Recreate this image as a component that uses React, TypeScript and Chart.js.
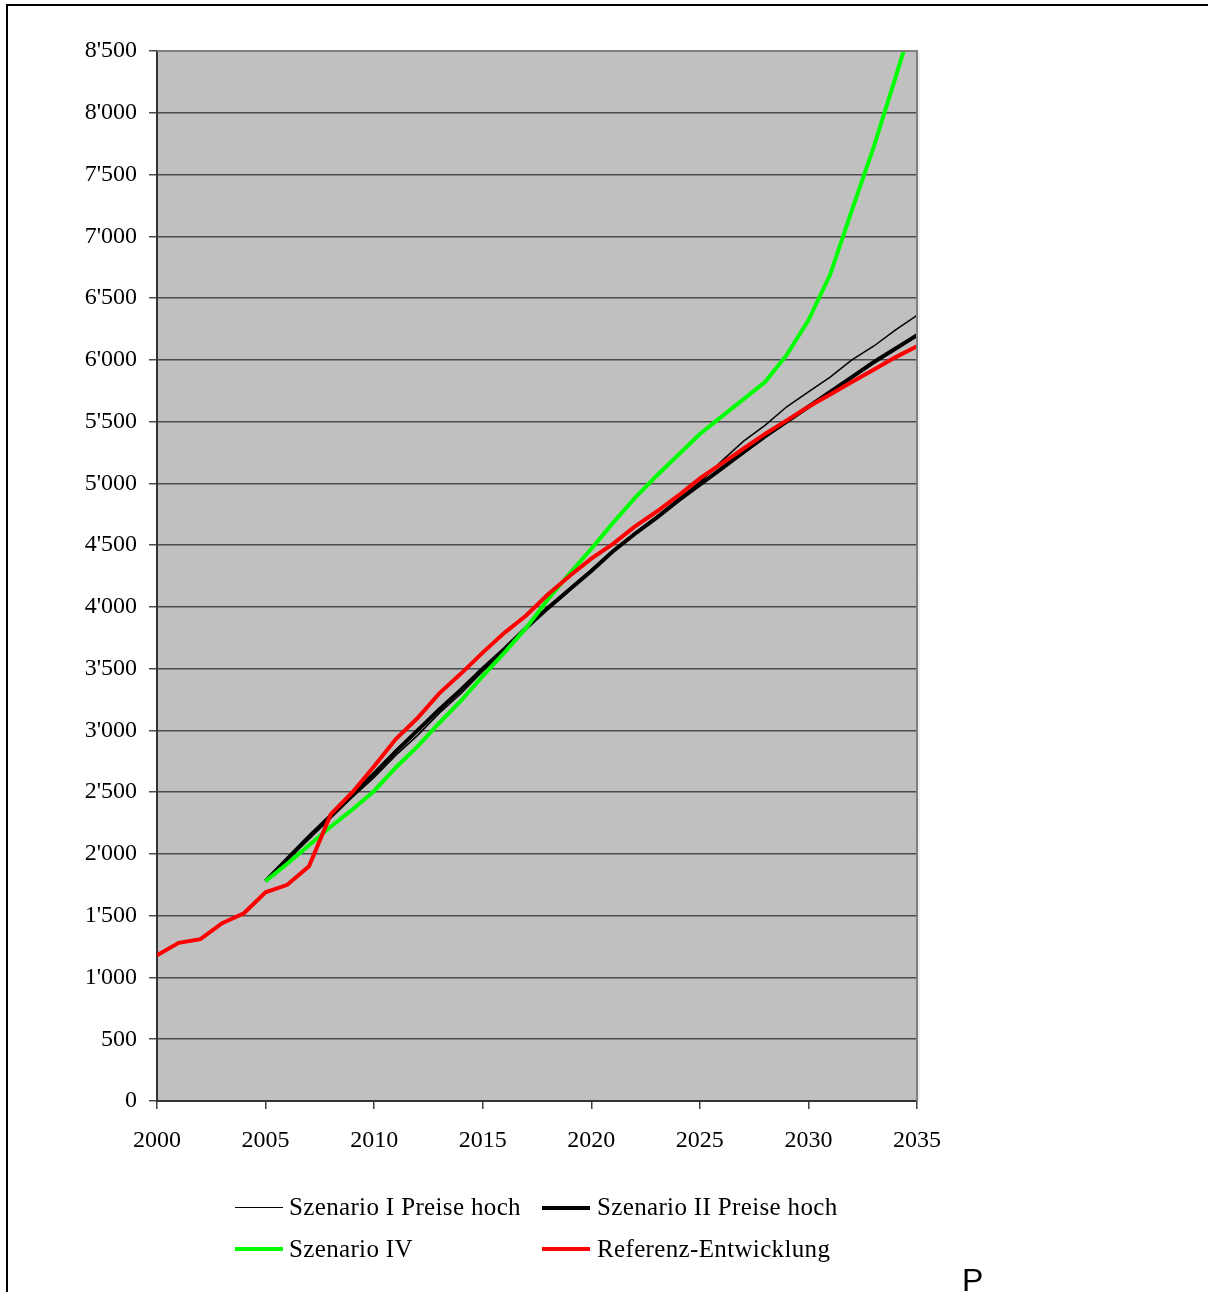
import React, { useEffect, useRef } from "react";
import { Chart, registerables } from "chart.js";

Chart.register(...registerables);

// ---- Data ----
const YEARS_REF = [
  2000, 2001, 2002, 2003, 2004, 2005, 2006, 2007, 2008, 2009, 2010, 2011,
  2012, 2013, 2014, 2015, 2016, 2017, 2018, 2019, 2020, 2021, 2022, 2023,
  2024, 2025, 2026, 2027, 2028, 2029, 2030, 2031, 2032, 2033, 2034, 2035,
];
const YEARS_SZEN = [
  2005, 2006, 2007, 2008, 2009, 2010, 2011, 2012, 2013, 2014, 2015, 2016,
  2017, 2018, 2019, 2020, 2021, 2022, 2023, 2024, 2025, 2026, 2027, 2028,
  2029, 2030, 2031, 2032, 2033, 2034, 2035,
];
const REFERENZ = [
  1180, 1280, 1310, 1440, 1520, 1690, 1750, 1900, 2320, 2500, 2710, 2930,
  3100, 3300, 3460, 3630, 3790, 3930, 4100, 4250, 4390, 4510, 4650, 4770,
  4900, 5040, 5160, 5280, 5400, 5510, 5620, 5720, 5820, 5920, 6020, 6110,
];
const SZEN_I = [
  1780, 1950, 2120, 2290, 2460, 2620, 2800, 2960, 3140, 3300, 3480, 3650,
  3820, 3990, 4150, 4300, 4450, 4600, 4730, 4870, 5010, 5180, 5340, 5470,
  5620, 5740, 5860, 6000, 6110, 6240, 6360,
];
const SZEN_II = [
  1780, 1960, 2140, 2310, 2480, 2650, 2830, 3000, 3170, 3330, 3500, 3660,
  3830, 3990, 4140, 4290, 4450, 4590, 4720, 4860, 4990, 5120, 5250, 5380,
  5500, 5620, 5740, 5860, 5980, 6090, 6200,
];
const SZEN_IV = [
  1780, 1920, 2070, 2220, 2360, 2510, 2700, 2870, 3060, 3240, 3440, 3630,
  3830, 4060, 4270, 4470, 4680, 4880, 5060, 5230, 5400, 5540, 5680, 5820,
  6040, 6320, 6690, 7210, 7720, 8280, 8850,
];
const SERIES_LABELS = [
  "Szenario I Preise hoch",
  "Szenario II Preise hoch",
  "Szenario IV",
  "Referenz-Entwicklung",
];
const SERIES_COLORS = ["#000000", "#000000", "#00FF00", "#FF0000"];
const SERIES_WIDTHS = [1.5, 4, 4, 4];
const X_MIN = 2000;
const X_MAX = 2035;
const X_STEP = 5;
const Y_MIN = 0;
const Y_MAX = 8500;
const Y_STEP = 500;
const CORNER_MARK = "P";

const SERIF = "'Liberation Serif', 'Times New Roman', serif";

function fmt(v: number): string {
  if (v >= 1000) {
    const th = Math.floor(v / 1000);
    const rest = String(Math.round(v % 1000)).padStart(3, "0");
    return th + "'" + rest;
  }
  return String(v);
}

function pts(xs: number[], ys: number[]) {
  return xs.map((x, i) => ({ x, y: ys[i] }));
}

const plotFrame = {
  id: "plotFrame",
  beforeDraw(chart: any) {
    const { ctx, chartArea: a } = chart;
    ctx.save();
    ctx.fillStyle = "#C0C0C0";
    ctx.fillRect(a.left, a.top, a.right - a.left, a.bottom - a.top);
    ctx.restore();
  },
  afterDatasetsDraw(chart: any) {
    const { ctx, chartArea: a } = chart;
    ctx.save();
    ctx.strokeStyle = "#E0E0E0";
    ctx.lineWidth = 1;
    ctx.beginPath();
    ctx.moveTo(a.right + 2, a.top + 1);
    ctx.lineTo(a.right + 2, a.bottom);
    ctx.stroke();
    ctx.strokeStyle = "#808080";
    ctx.lineWidth = 2;
    ctx.beginPath();
    ctx.moveTo(a.left, a.top);
    ctx.lineTo(a.right, a.top);
    ctx.lineTo(a.right, a.bottom);
    ctx.stroke();
    ctx.restore();
  },
};

export default function App() {
  const canvasRef = useRef<HTMLCanvasElement | null>(null);

  useEffect(() => {
    document.body.style.margin = "0";
    const canvas = canvasRef.current;
    if (!canvas) return;
    const seriesData = [
      pts(YEARS_SZEN, SZEN_I),
      pts(YEARS_SZEN, SZEN_II),
      pts(YEARS_SZEN, SZEN_IV),
      pts(YEARS_REF, REFERENZ),
    ];
    const orders = [3, 2, 1, 0];
    const chart = new Chart(canvas, {
      type: "line",
      data: {
        datasets: SERIES_LABELS.map((label, i) => ({
          label,
          data: seriesData[i],
          borderColor: SERIES_COLORS[i],
          backgroundColor: SERIES_COLORS[i],
          borderWidth: SERIES_WIDTHS[i],
          pointRadius: 0,
          tension: 0,
          fill: false,
          order: orders[i],
        })),
      },
      options: {
        animation: false,
        responsive: false,
        maintainAspectRatio: false,
        layout: { padding: { left: 0, top: 51, right: 291, bottom: 131 } },
        plugins: {
          legend: { display: false },
          tooltip: { enabled: false },
        },
        scales: {
          x: {
            type: "linear",
            min: X_MIN,
            max: X_MAX,
            afterFit: (s: any) => {
              s.height = 60;
            },
            ticks: {
              stepSize: X_STEP,
              color: "#000",
              padding: 17,
              maxRotation: 0,
              font: { family: SERIF, size: 24 },
              callback: (v: any) => String(v),
            },
            grid: {
              drawOnChartArea: false,
              drawTicks: true,
              tickLength: 8,
              color: "#404040",
              lineWidth: 1.5,
            },
            border: { display: true, color: "#333333", width: 2 },
          },
          y: {
            type: "linear",
            min: Y_MIN,
            max: Y_MAX,
            afterFit: (s: any) => {
              s.width = 157;
            },
            ticks: {
              stepSize: Y_STEP,
              color: "#000",
              padding: 12,
              font: { family: SERIF, size: 24 },
              callback: (v: any) => fmt(Number(v)),
            },
            grid: {
              drawOnChartArea: true,
              drawTicks: true,
              tickLength: 8,
              color: "#4a4a4a",
              lineWidth: 1.5,
            },
            border: { display: true, color: "#333333", width: 2 },
          },
        },
      },
      plugins: [plotFrame],
    });
    return () => chart.destroy();
  }, []);

  const legendPos = [
    { lx: 235, tx: 289, cy: 1207.5, top: 1194 },
    { lx: 542, tx: 597, cy: 1207.5, top: 1194 },
    { lx: 235, tx: 289, cy: 1249, top: 1236 },
    { lx: 542, tx: 597, cy: 1249, top: 1236 },
  ];

  return (
    <div
      style={{
        position: "absolute",
        left: 0,
        top: 0,
        width: 1208,
        height: 1292,
        overflow: "hidden",
        background: "#fff",
      }}
    >
      <div
        style={{
          position: "absolute",
          left: 6,
          top: 4,
          right: 0,
          bottom: 0,
          borderTop: "2px solid #000",
          borderLeft: "2px solid #000",
        }}
      />
      <canvas
        ref={canvasRef}
        width={1208}
        height={1292}
        style={{ position: "absolute", left: 0, top: 0, width: 1208, height: 1292 }}
      />
      {SERIES_LABELS.map((label, i) => (
        <React.Fragment key={label}>
          <div
            style={{
              position: "absolute",
              left: legendPos[i].lx,
              top: legendPos[i].cy - SERIES_WIDTHS[i] / 2,
              width: 48,
              height: SERIES_WIDTHS[i],
              background: SERIES_COLORS[i],
            }}
          />
          <div
            style={{
              position: "absolute",
              left: legendPos[i].tx,
              top: legendPos[i].top,
              fontFamily: SERIF,
              fontSize: 25,
              lineHeight: "25px",
              letterSpacing: "0.35px",
              color: "#000",
              whiteSpace: "nowrap",
            }}
          >
            {label}
          </div>
        </React.Fragment>
      ))}
      <div
        style={{
          position: "absolute",
          left: 962,
          top: 1264,
          fontFamily: "'Liberation Sans', Arial, sans-serif",
          fontSize: 32,
          lineHeight: "32px",
          color: "#000",
        }}
      >
        {CORNER_MARK}
      </div>
    </div>
  );
}
